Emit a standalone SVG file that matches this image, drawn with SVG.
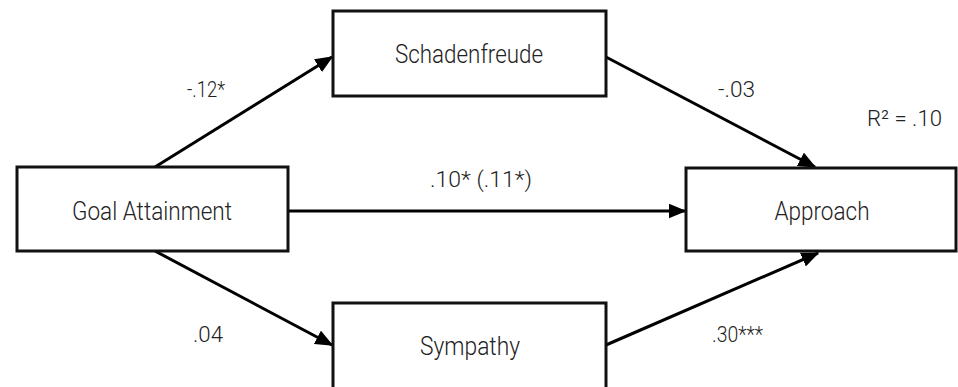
<svg xmlns="http://www.w3.org/2000/svg" width="958" height="387" viewBox="0 0 958 387">
<style>
.box{fill:#fff;stroke:#111;stroke-width:3}
.node{font-family:Roboto,"Liberation Sans",sans-serif;font-weight:300;font-size:26px;fill:#222;text-anchor:middle}
.lab{font-family:Roboto,"Liberation Sans",sans-serif;font-weight:300;font-size:22px;fill:#222}
.edge{stroke:#000;stroke-width:3;fill:none;marker-end:url(#ah)}
</style>
<defs>
<marker id="ah" markerWidth="6" markerHeight="5" refX="5.5" refY="2.5" orient="auto" markerUnits="strokeWidth">
<path d="M0,0 L6,2.5 L0,5 Z" fill="#000"/>
</marker>
</defs>
<rect width="958" height="387" fill="#fff"/>
<g id="connectors">
<line class="edge" x1="155" y1="167" x2="332" y2="57"/>
<line class="edge" x1="606" y1="57" x2="815" y2="167"/>
<line class="edge" x1="288" y1="211" x2="685" y2="211"/>
<line class="edge" x1="155" y1="251" x2="332" y2="345"/>
<line class="edge" x1="606" y1="345" x2="818" y2="253"/>
</g>
<g id="schadenfreude">
<rect class="box" x="333" y="11" width="273" height="85"/>
<text class="node" x="469" y="63" textLength="148" lengthAdjust="spacingAndGlyphs">Schadenfreude</text>
</g>
<g id="goal-attainment">
<rect class="box" x="17" y="167" width="271" height="84"/>
<text class="node" x="152" y="220" textLength="160" lengthAdjust="spacingAndGlyphs">Goal Attainment</text>
</g>
<g id="approach">
<rect class="box" x="686" y="168" width="270" height="83"/>
<text class="node" x="822" y="220" textLength="95" lengthAdjust="spacingAndGlyphs">Approach</text>
</g>
<g id="sympathy">
<rect class="box" x="333" y="303" width="273" height="90"/>
<text class="node" x="470" y="355" textLength="100" lengthAdjust="spacingAndGlyphs">Sympathy</text>
</g>
<g id="labels">
<text class="lab" x="187" y="97" textLength="38" lengthAdjust="spacingAndGlyphs">-.12*</text>
<text class="lab" x="718" y="97" textLength="37" lengthAdjust="spacingAndGlyphs">-.03</text>
<text class="lab" x="867" y="126" textLength="75" lengthAdjust="spacingAndGlyphs">R² = .10</text>
<text class="lab" x="430" y="187" textLength="102" lengthAdjust="spacingAndGlyphs">.10* (.11*)</text>
<text class="lab" x="193" y="342" textLength="30" lengthAdjust="spacingAndGlyphs">.04</text>
<text class="lab" x="712" y="342" textLength="51" lengthAdjust="spacingAndGlyphs">.30***</text>
</g>
</svg>
